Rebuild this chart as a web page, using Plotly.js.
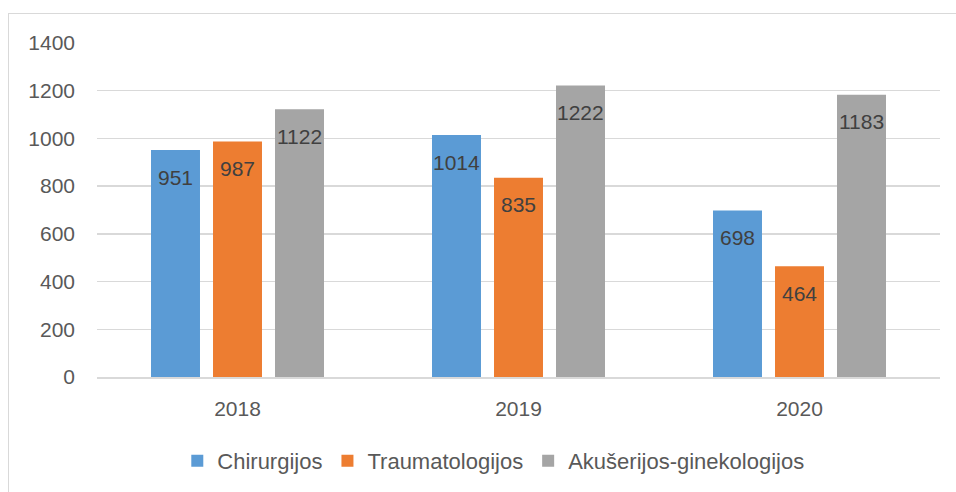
<!DOCTYPE html>
<html>
<head>
<meta charset="utf-8">
<script src="https://cdn.plot.ly/plotly-3.0.1.min.js"></script>
<style>
  html, body { margin: 0; padding: 0; background: #fff; }
  #wrap { position: relative; width: 956px; height: 492px; }
  #chart { position: absolute; left: 0; top: 0; width: 956px; height: 492px; }
  #frame { position: absolute; left: 8px; top: 13px; width: 960px; height: 500px;
           border-left: 1.5px solid #d9d9d9; border-top: 1.5px solid #d9d9d9; pointer-events: none; }
</style>
</head>
<body>
<div id="wrap">
  <div id="chart"></div>
  <div id="frame"></div>
</div>
<script>
const years = ['2018', '2019', '2020'];
const seriesNames = ['Chirurgijos', 'Traumatologijos', 'Akušerijos-ginekologijos'];
const chirurgijos = [951, 1014, 698];
const traumatologijos = [987, 835, 464];
const akuserijos = [1122, 1222, 1183];
const yTicks = [0, 200, 400, 600, 800, 1000, 1200, 1400];

const colors = ['#5B9BD5', '#ED7D31', '#A5A5A5'];
const seriesValues = [chirurgijos, traumatologijos, akuserijos];
const FONT = 'Liberation Sans, Arial, sans-serif';

const traces = seriesValues.map((vals, i) => ({
  type: 'bar',
  name: seriesNames[i],
  x: years,
  y: vals,
  marker: { color: colors[i] },
  hoverinfo: 'none'
}));

const slotPx = 62;
const annotations = [];
seriesValues.forEach((vals, i) => {
  vals.forEach((v, j) => {
    annotations.push({
      x: j, y: v, xref: 'x', yref: 'y',
      text: String(v), showarrow: false,
      xshift: (i - 1) * slotPx, yshift: -27,
      yanchor: 'middle', xanchor: 'center',
      font: { family: FONT, size: 21, color: '#404040' }
    });
  });
});

const layout = {
  width: 956, height: 492,
  margin: { l: 97, r: 16, t: 43, b: 115 },
  paper_bgcolor: 'rgba(0,0,0,0)',
  plot_bgcolor: 'rgba(0,0,0,0)',
  barmode: 'group',
  bargap: 0.338,
  bargroupgap: 0.21,
  font: { family: FONT, size: 21, color: '#595959' },
  showlegend: true,
  legend: {
    orientation: 'h', xref: 'container', yref: 'container',
    x: 0.516, xanchor: 'center', y: 0.063, yanchor: 'middle',
    font: { family: FONT, size: 22, color: '#595959' },
    traceorder: 'normal'
  },
  xaxis: {
    type: 'category', range: [-0.5, 2.5], autorange: false,
    showgrid: false, zeroline: false,
    showline: true, linecolor: '#d9d9d9', linewidth: 1.5,
    ticks: '', ticklabelstandoff: 12,
    tickfont: { family: FONT, size: 21, color: '#595959' }
  },
  yaxis: {
    range: [0, 1400], autorange: false, tickvals: yTicks, ticktext: yTicks.map(String),
    showgrid: true, gridcolor: '#d9d9d9', gridwidth: 1.5,
    zeroline: false, showline: false, ticks: '', ticklabelstandoff: 21,
    tickfont: { family: FONT, size: 21, color: '#595959' }
  },
  annotations: annotations
};

Plotly.newPlot('chart', traces, layout, { staticPlot: true, displayModeBar: false });
</script>
</body>
</html>
